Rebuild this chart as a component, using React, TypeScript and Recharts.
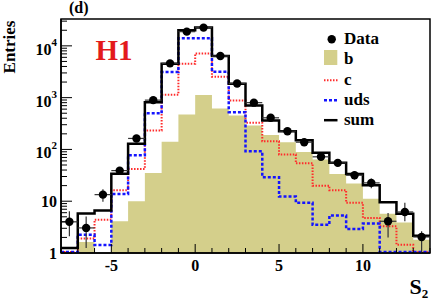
import React from 'react';
import { ComposedChart, Line, Area, Scatter, XAxis, YAxis, ErrorBar, ReferenceArea, Legend } from 'recharts';

const FONT = '"Liberation Serif", "Times New Roman", serif';

// bin edges of the S2 histogram (unit width bins)
const binEdges = [-8, -7, -6, -5, -4, -3, -2, -1, 0, 1, 2, 3, 4, 5, 6, 7, 8, 9, 10, 11, 12, 13, 14];

// per-bin contents (log scale)
const sumCounts = [1.25, 5.8, 6.6, 34, 128, 818, 4530, 19950, 22500, 6350, 1860, 706, 362, 225, 151, 86, 55, 33.7, 20.3, 9.5, 5.7, 2.16];
const cCounts = [1.05, 1.9, 4.4, 16.3, 42, 232, 1140, 4530, 7100, 2540, 883, 327, 144, 80, 54, 19.9, 16.3, 9.3, 4.75, 3.27, 1.45, 1.05];
const udsCounts = [1.05, 2.26, 1.43, 13.8, 77, 501, 3120, 14000, 14000, 3170, 525, 92, 29, 12.3, 9.3, 3.5, 5.3, 2.9, 3.7, 1.05, 1.05, 1.05];
const bCounts = [1, 1.63, 1, 4.1, 10, 35, 140, 473, 1120, 618, 453, 290, 190, 138, 89, 64, 33.7, 21.9, 11.2, 5.7, 3.9, 1.8];

// data points at bin centres
const binCentres = [-7.5, -6.5, -5.5, -4.5, -3.5, -2.5, -1.5, -0.5, 0.5, 1.5, 2.5, 3.5, 4.5, 5.5, 6.5, 7.5, 8.5, 9.5, 10.5, 11.5, 12.5, 13.5];
const dataCounts = [4.0, 3.05, 13.4, 39, 163, 895, 4590, 18800, 22500, 6350, 1880, 800, 408, 225, 138, 72, 55, 31.8, 22.6, 4.1, 6.2, 2.04];
const dataErrLow = [1.9, 1.8, 3.6, 6.2, 12.8, 30, 68, 137, 150, 80, 43, 28, 20, 15, 11.7, 8.5, 7.4, 5.6, 4.8, 2.1, 2.1, 1.0];
const dataErrHigh = [2.4, 2.0, 3.6, 6.2, 12.8, 30, 68, 137, 150, 80, 43, 28, 20, 15, 11.7, 8.5, 7.4, 5.6, 4.8, 1.8, 3.1, 0.6];
const halfBin = 0.5;

const xTicks = [-8, -7, -6, -5, -4, -3, -2, -1, 0, 1, 2, 3, 4, 5, 6, 7, 8, 9, 10, 11, 12, 13, 14];
const xMajorTicks = [-5, 0, 5, 10];
const xMajorLabels = ['-5', '0', '5', '10'];

const yTicks = [
  1, 2, 3, 4, 5, 6, 7, 8, 9,
  10, 20, 30, 40, 50, 60, 70, 80, 90,
  100, 200, 300, 400, 500, 600, 700, 800, 900,
  1000, 2000, 3000, 4000, 5000, 6000, 7000, 8000, 9000,
  10000, 20000, 30000,
];
const yMajorTicks = [1, 10, 100, 1000, 10000];
const yMajorBase = ['1', '10', '10', '10', '10'];
const yMajorExp = ['', '', '2', '3', '4'];

const legendNames = ['Data', 'b', 'c', 'uds', 'sum'];

const KHAKI = '#d4cf8b';
const RED = '#ff2a2a';
const BLUE = '#1414ff';

// step histograms: last edge repeats the last bin so the step closes at 14
const histRows = binEdges.map((x, i) => {
  const j = Math.min(i, sumCounts.length - 1);
  return { x, sum: sumCounts[j], c: cCounts[j], uds: udsCounts[j], b: bCounts[j] };
});

const pointRows = binCentres.map((x, i) => ({
  x,
  y: dataCounts[i],
  errY: [dataErrLow[i], dataErrHigh[i]],
  errX: halfBin,
}));

function XTick(props: any) {
  const { x, y, payload } = props;
  const k = xMajorTicks.indexOf(payload.value);
  const major = k >= 0;
  return (
    <g>
      <line x1={x} x2={x} y1={y} y2={y - (major ? 9 : 5)} stroke="#000" strokeWidth={1} />
      {major && (
        <text x={x} y={y + 17.5} textAnchor="middle" fontFamily={FONT} fontWeight="bold" fontSize={16} fill="#000">
          {xMajorLabels[k]}
        </text>
      )}
    </g>
  );
}

function YTick(props: any) {
  const { x, y, payload } = props;
  const k = yMajorTicks.indexOf(payload.value);
  const major = k >= 0;
  return (
    <g>
      <line x1={x} x2={x + (major ? 11 : 6)} y1={y} y2={y} stroke="#000" strokeWidth={1} />
      {major && (
        <text x={x - 4} y={y + (yMajorExp[k] ? 9 : 5.5)} textAnchor="end" fontFamily={FONT} fontWeight="bold" fontSize={16} fill="#000">
          {yMajorBase[k]}
          {yMajorExp[k] && <tspan dy={-9} fontSize={11}>{yMajorExp[k]}</tspan>}
        </text>
      )}
    </g>
  );
}

function legendMarker(i: number) {
  if (i === 0) return <circle cx={13.7} cy={10.2} r={4.2} fill="#000" />;
  if (i === 1) return <rect x={6} y={1} width={13.3} height={15} fill={KHAKI} />;
  if (i === 2) return <line x1={6} x2={19.5} y1={10.2} y2={10.2} stroke={RED} strokeWidth={2} strokeDasharray="1.5 1.5" />;
  if (i === 3) return <line x1={6} x2={19.5} y1={10.2} y2={10.2} stroke={BLUE} strokeWidth={2.5} strokeDasharray="3 2" />;
  return <line x1={6} x2={19.5} y1={10.2} y2={10.2} stroke="#000" strokeWidth={2.5} />;
}

function LegendBox() {
  return (
    <div style={{ fontFamily: FONT, fontWeight: 'bold', fontSize: 17, color: '#000' }}>
      {legendNames.map((name, i) => (
        <div key={name} style={{ display: 'flex', alignItems: 'center', height: 20.4, lineHeight: '20.4px' }}>
          <svg width={26} height={20.4} style={{ display: 'block' }}>{legendMarker(i)}</svg>
          <span>{name}</span>
        </div>
      ))}
    </div>
  );
}

export default function App() {
  const textBase = { position: 'absolute' as const, fontFamily: FONT, fontWeight: 'bold' as const, lineHeight: 1, whiteSpace: 'nowrap' as const, color: '#000' };
  return (
    <div style={{ position: 'absolute', left: 0, top: 0, width: 431, height: 301, background: '#fff' }}>
      <ComposedChart width={431} height={301} margin={{ top: 19, right: 1, bottom: 0, left: 0 }}>
        <XAxis
          dataKey="x"
          type="number"
          domain={[-8, 14]}
          allowDataOverflow
          ticks={xTicks}
          interval={0}
          tick={<XTick />}
          tickSize={0}
          tickMargin={0}
          tickLine={false}
          axisLine={{ stroke: '#000', strokeWidth: 1.5 }}
          height={48}
        />
        <YAxis
          type="number"
          scale="log"
          domain={[1, 33000]}
          allowDataOverflow
          ticks={yTicks}
          interval={0}
          tick={<YTick />}
          tickSize={0}
          tickMargin={0}
          tickLine={false}
          axisLine={{ stroke: '#000', strokeWidth: 1.5 }}
          width={61}
        />
        <Area data={histRows} dataKey="b" type="stepAfter" baseValue={1} fill={KHAKI} fillOpacity={1} stroke="none" isAnimationActive={false} />
        <Line data={histRows} dataKey="c" type="stepAfter" stroke={RED} strokeWidth={2} strokeDasharray="1.5 1.5" dot={false} activeDot={false} isAnimationActive={false} />
        <Line data={histRows} dataKey="uds" type="stepAfter" stroke={BLUE} strokeWidth={2.5} strokeDasharray="3 2" dot={false} activeDot={false} isAnimationActive={false} />
        <Line data={histRows} dataKey="sum" type="stepAfter" stroke="#000" strokeWidth={2.5} dot={false} activeDot={false} isAnimationActive={false} />
        <Scatter
          data={pointRows}
          dataKey="y"
          isAnimationActive={false}
          shape={(p: any) => <circle cx={p.cx} cy={p.cy} r={4.2} fill="#000" />}
        >
          <ErrorBar dataKey="errY" direction="y" width={0} stroke="#333" strokeWidth={1.2} />
          <ErrorBar dataKey="errX" direction="x" width={0} stroke="#333" strokeWidth={1.2} />
        </Scatter>
        <ReferenceArea x1={-8} x2={14} y1={1} y2={33000} fill="none" stroke="#000" strokeWidth={1.5} ifOverflow="visible" />
        <Legend
          layout="vertical"
          align="center"
          verticalAlign="middle"
          content={() => <LegendBox />}
          wrapperStyle={{ left: 318, top: 28.85, width: 110 }}
        />
      </ComposedChart>
      <div style={{ ...textBase, left: 69, top: 0, fontSize: 16 }}>(d)</div>
      <div style={{ ...textBase, left: 95.5, top: 36.4, fontSize: 29, color: '#e31a1c' }}>H1</div>
      <div style={{ ...textBase, left: 8.5, top: 46.5, fontSize: 17, transform: 'translate(-50%, -50%) rotate(-90deg)' }}>Entries</div>
      <div style={{ ...textBase, left: 409.5, top: 276.4, fontSize: 22 }}>
        S<span style={{ fontSize: 13, position: 'relative', top: 3.5 }}>2</span>
      </div>
    </div>
  );
}
